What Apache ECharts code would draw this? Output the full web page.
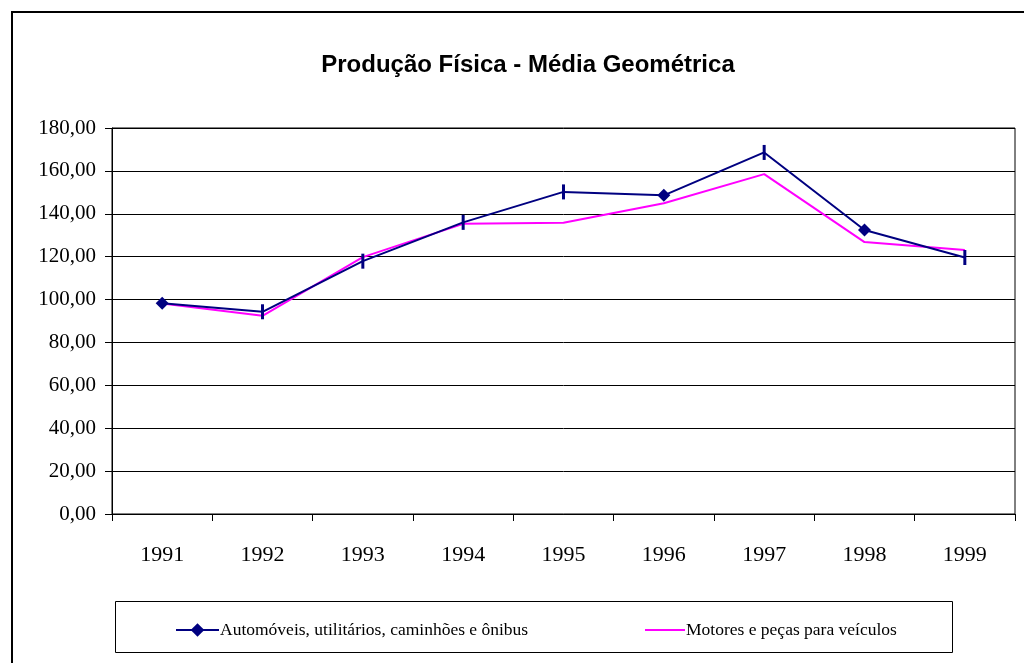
<!DOCTYPE html>
<html>
<head>
<meta charset="utf-8">
<style>
  html, body { margin: 0; padding: 0; background: #fff; }
  #chart { width: 1024px; height: 663px; }
</style>
<script src="https://cdn.jsdelivr.net/npm/echarts@6/dist/echarts.min.js"></script>
</head>
<body>
<div id="chart"></div>
<script>
var years = ['1991', '1992', '1993', '1994', '1995', '1996', '1997', '1998', '1999'];
var automoveis = [98.3, 94.3, 117.9, 136.0, 150.2, 148.6, 168.6, 132.4, 119.6];
var motores = [98.2, 92.4, 119.8, 135.3, 135.8, 144.9, 158.5, 126.8, 123.1];
var diamondYears = ['1991', '1996', '1998'];
var seriesNames = ['Automóveis, utilitários, caminhões e ônibus', 'Motores e peças para veículos'];

var serif = '"Liberation Serif", "DejaVu Serif", serif';
var navy = '#000080';
var magenta = '#ff00ff';
var tickMark = 'path://M0,0h1v10h-1z';

// the navy line mixes diamonds and short vertical ticks, as in the original
var autoData = automoveis.map(function (v, i) {
  var d = diamondYears.indexOf(years[i]) >= 0;
  return { value: v, symbol: d ? 'diamond' : tickMark, symbolSize: d ? 13 : [3, 15] };
});

var chart = echarts.init(document.getElementById('chart'), null, { renderer: 'canvas' });
chart.setOption({
  animation: false,
  backgroundColor: '#fff',
  title: {
    text: 'Produção Física - Média Geométrica',
    left: 523, top: 48, textAlign: 'center',
    textStyle: { fontFamily: '"Liberation Sans", Arial, sans-serif', fontWeight: 'bold', fontSize: 24, color: '#000' }
  },
  grid: { left: 112, right: 9, top: 128, bottom: 149, show: true, borderColor: '#000', borderWidth: 1 },
  legend: [{
    data: [seriesNames[0]], left: 170, top: 616, itemWidth: 43, itemHeight: 17, itemGap: 3,
    textStyle: { fontFamily: serif, fontSize: 17.5, color: '#000', padding: [0, 0, 0, -4] }
  }, {
    data: [{ name: seriesNames[1], icon: 'path://M0,0h40v2h-40z' }],
    left: 640, top: 616, itemWidth: 40, itemHeight: 2,
    textStyle: { fontFamily: serif, fontSize: 17.5, color: '#000', padding: [0, 0, 0, -4] }
  }],
  xAxis: {
    type: 'category', data: years, boundaryGap: true,
    axisLine: { lineStyle: { color: '#000', width: 1 } },
    axisTick: { show: true, length: 7, lineStyle: { color: '#000' } },
    axisLabel: { fontFamily: serif, fontSize: 22, color: '#000', margin: 30 }
  },
  yAxis: {
    type: 'value', min: 0, max: 180, interval: 20,
    axisLine: { show: true, lineStyle: { color: '#000', width: 1 } },
    axisTick: { show: true, length: 7, lineStyle: { color: '#000' } },
    axisLabel: {
      fontFamily: serif, fontSize: 21, color: '#000', margin: 16,
      formatter: function (v) { return v.toFixed(2).replace('.', ','); }
    },
    splitLine: { lineStyle: { color: '#000', width: 1 } }
  },
  series: [{
    name: seriesNames[0], type: 'line', data: autoData,
    symbol: 'diamond', symbolSize: 13,
    lineStyle: { color: navy, width: 2 }, itemStyle: { color: navy }
  }, {
    name: seriesNames[1], type: 'line', data: motores,
    symbol: 'none', z: 1,
    lineStyle: { color: magenta, width: 2 }, itemStyle: { color: magenta }
  }],
  graphic: [{
    type: 'rect', shape: { x: 12, y: 12, width: 1100, height: 800 },
    style: { fill: 'none', stroke: '#000', lineWidth: 2 }, silent: true
  }, {
    type: 'rect', shape: { x: 115.5, y: 601.5, width: 837, height: 51 },
    style: { fill: 'none', stroke: '#000', lineWidth: 1 }, silent: true
  }]
});
</script>
</body>
</html>
